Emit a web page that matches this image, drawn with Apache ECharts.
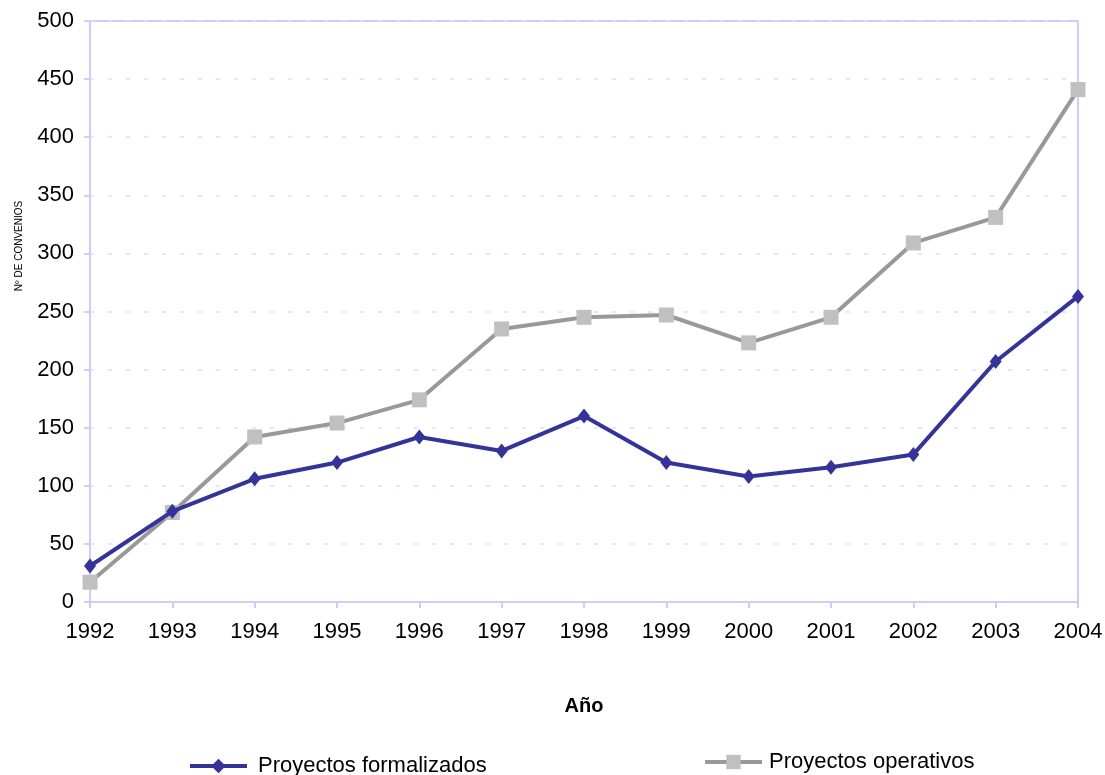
<!DOCTYPE html>
<html><head><meta charset="utf-8">
<script src="https://cdn.jsdelivr.net/npm/echarts@6/dist/echarts.min.js"></script>
<style>html,body{margin:0;padding:0;background:#fff}#c{width:1105px;height:775px}</style>
</head><body><div id="c"></div>
<script>
const years = ['1992','1993','1994','1995','1996','1997','1998','1999','2000','2001','2002','2003','2004'];
const formalizados = [31, 78, 106, 120, 142, 130, 160, 120, 108, 116, 127, 207, 263];
const operativos = [17, 77, 142, 154, 174, 235, 245, 247, 223, 245, 309, 331, 441];
const yTicks = [0, 50, 100, 150, 200, 250, 300, 350, 400, 450, 500];
const yName = 'Nº DE CONVENIOS';
const xName = 'Año';

const axisCol = '#ccccff';
const font = 'Liberation Sans, Arial, sans-serif';
const chart = echarts.init(document.getElementById('c'));
chart.setOption({
  animation: false,
  backgroundColor: '#fff',
  textStyle: {fontFamily: font},
  grid: {left: 90, right: 27, top: 21, bottom: 173, show: true, borderColor: axisCol, borderWidth: 2,
         containLabel: false, outerBoundsMode: 'none'},
  graphic: [{
    type: 'text', x: 19, y: 246, rotation: Math.PI / 2,
    style: {text: yName, fontSize: 10, fill: '#000', fontFamily: font, align: 'center', verticalAlign: 'middle'}
  }],
  legend: [
    {data: ['Proyectos formalizados'], left: 183, top: 750, itemWidth: 57, itemHeight: 18, itemGap: 17,
     lineStyle: {width: 4}, textStyle: {fontSize: 22, color: '#000', fontFamily: font, padding: [0, 0, 0, 6]}},
    {data: ['Proyectos operativos'], left: 698, top: 746, itemWidth: 57, itemHeight: 18, itemGap: 14,
     lineStyle: {width: 4}, textStyle: {fontSize: 22, color: '#000', fontFamily: font, padding: [0, 0, 0, 2]}}
  ],
  xAxis: {
    type: 'category', data: years, boundaryGap: false,
    name: xName, nameLocation: 'middle', nameGap: 94,
    nameTextStyle: {fontSize: 20, fontWeight: 'bold', color: '#000', fontFamily: font},
    axisLine: {lineStyle: {color: axisCol, width: 2}},
    axisTick: {show: true, length: 6, lineStyle: {color: axisCol, width: 2}},
    axisLabel: {fontSize: 22, color: '#000', margin: 19, fontFamily: font},
    splitLine: {show: false}
  },
  yAxis: {
    type: 'value', min: 0, max: 500, interval: 50,
    axisLine: {show: true, lineStyle: {color: axisCol, width: 2}},
    axisTick: {show: true, length: 6, lineStyle: {color: axisCol, width: 2}},
    axisLabel: {fontSize: 22, color: '#000', margin: 16, fontFamily: font,
      formatter: v => yTicks.includes(v) ? String(v) : ''},
    splitLine: {show: true, lineStyle: {color: '#ddddff', type: [4, 14], width: 1.5}}
  },
  series: [
    {name: 'Proyectos formalizados', type: 'line', data: formalizados,
     symbol: 'diamond', symbolSize: [12, 15], lineStyle: {color: '#333399', width: 4},
     itemStyle: {color: '#333399'}, z: 3},
    {name: 'Proyectos operativos', type: 'line', data: operativos,
     symbol: 'rect', symbolSize: 15, lineStyle: {color: '#999999', width: 4},
     itemStyle: {color: '#c0c0c0'}, z: 2}
  ]
});
</script></body></html>
